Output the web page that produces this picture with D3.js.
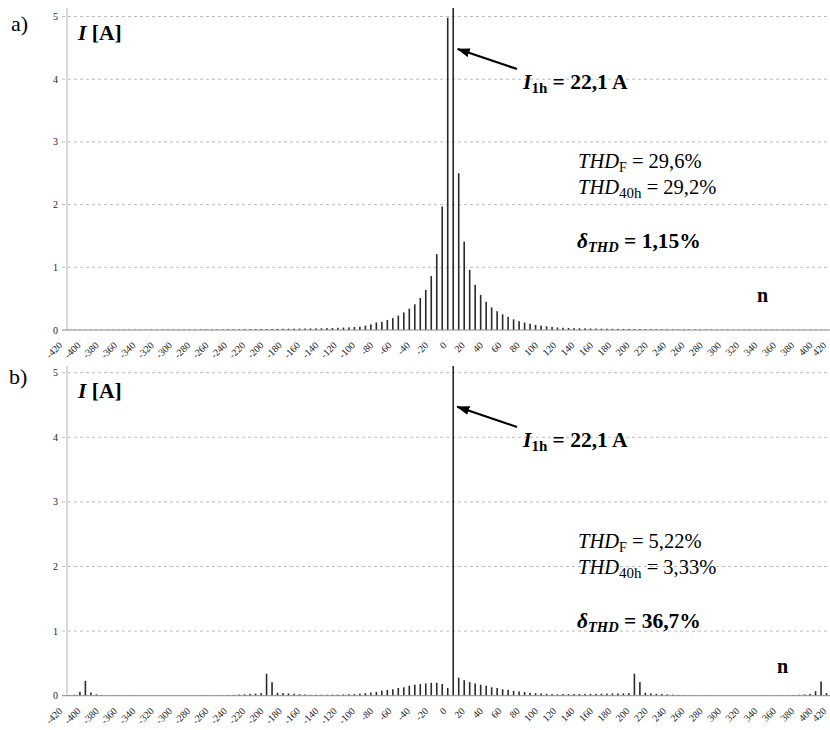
<!DOCTYPE html>
<html>
<head>
<meta charset="utf-8">
<script src="https://cdn.jsdelivr.net/npm/d3@7"></script>
<style>
  body { margin: 0; background: #fff; }
  svg text { white-space: pre; }
</style>
</head>
<body>
<svg id="chart" width="830" height="730" font-family="'Liberation Serif', 'Times New Roman', serif"></svg>
<script>
// Harmonic orders of the spectrum lines (6k+1); negative orders = negative sequence
const orders = d3.range(-419, 416, 6);
const xTickValues = d3.range(-420, 421, 20);
const yTickValues = [0, 1, 2, 3, 4, 5];

// a) current amplitudes [A], orders -419 ... -5
const currentA_neg = [
  0.004, 0.004, 0.004, 0.004, 0.005, 0.005, 0.005, 0.005, 0.005, 0.005,
  0.006, 0.006, 0.006, 0.006, 0.006, 0.007, 0.007, 0.007, 0.007, 0.008,
  0.008, 0.008, 0.009, 0.009, 0.009, 0.010, 0.010, 0.011, 0.011, 0.012,
  0.012, 0.013, 0.013, 0.014, 0.015, 0.015, 0.016, 0.017, 0.018, 0.019,
  0.020, 0.021, 0.022, 0.023, 0.025, 0.026, 0.028, 0.030, 0.032, 0.035,
  0.038, 0.042, 0.047, 0.053, 0.07, 0.09, 0.12, 0.13, 0.16, 0.19,
  0.23, 0.28, 0.34, 0.41, 0.51, 0.64, 0.86, 1.21, 1.97, 4.98
];
// a) orders 1 ... 415
const currentA_pos = [
  22.1, 2.5, 1.41, 0.96, 0.72, 0.56, 0.45, 0.36, 0.30, 0.25,
  0.21, 0.17, 0.14, 0.12, 0.10, 0.08, 0.07, 0.06, 0.05, 0.04,
  0.036, 0.033, 0.030, 0.028, 0.026, 0.024, 0.022, 0.021, 0.020, 0.019,
  0.018, 0.017, 0.016, 0.015, 0.014, 0.014, 0.013, 0.012, 0.012, 0.011,
  0.011, 0.010, 0.010, 0.010, 0.009, 0.009, 0.009, 0.008, 0.008, 0.008,
  0.008, 0.007, 0.007, 0.007, 0.007, 0.006, 0.006, 0.006, 0.006, 0.006,
  0.005, 0.005, 0.005, 0.005, 0.005, 0.005, 0.005, 0.004, 0.004, 0.004
];
// b) orders -419 ... -5
const currentB_neg = [
  0.010, 0.015, 0.06, 0.23, 0.05, 0.02, 0.012, 0.010, 0.008, 0.008,
  0.007, 0.007, 0.006, 0.006, 0.006, 0.006, 0.006, 0.006, 0.006, 0.006,
  0.006, 0.006, 0.006, 0.007, 0.007, 0.008, 0.008, 0.009, 0.010, 0.012,
  0.014, 0.018, 0.022, 0.027, 0.032, 0.04, 0.34, 0.21, 0.045, 0.04,
  0.035, 0.03, 0.022, 0.018, 0.015, 0.015, 0.015, 0.015, 0.016, 0.017,
  0.02, 0.022, 0.025, 0.03, 0.04, 0.05, 0.06, 0.08, 0.09, 0.10,
  0.12, 0.13, 0.155, 0.17, 0.18, 0.19, 0.20, 0.20, 0.18, 0.12
];
// b) orders 1 ... 415
const currentB_pos = [
  22.1, 0.28, 0.24, 0.21, 0.19, 0.17, 0.155, 0.13, 0.12, 0.10,
  0.09, 0.075, 0.065, 0.055, 0.045, 0.04, 0.035, 0.03, 0.025, 0.02,
  0.025, 0.025, 0.025, 0.026, 0.027, 0.028, 0.03, 0.031, 0.032, 0.034,
  0.035, 0.036, 0.04, 0.34, 0.21, 0.045, 0.035, 0.03, 0.025, 0.02,
  0.016, 0.013, 0.011, 0.010, 0.009, 0.008, 0.007, 0.007, 0.006, 0.006,
  0.006, 0.006, 0.006, 0.006, 0.006, 0.006, 0.007, 0.007, 0.008, 0.008,
  0.009, 0.010, 0.012, 0.015, 0.02, 0.028, 0.07, 0.22, 0.04, 0.015
];

const panels = [
  {
    id: "a", label: "a)", values: currentA_neg.concat(currentA_pos),
    top: 8, y0: 330, y5: 16.5,
    thdF: "29,6%", thd40: "29,2%", delta: "1,15%",
    pos: { tag: [11, 31], unit: [78, 40], arrow: [517, 69, 457.7, 49], i1h: [523, 89],
           l1: [578, 168], l2: [578, 194], l3: [577, 248], n: [757, 302] }
  },
  {
    id: "b", label: "b)", values: currentB_neg.concat(currentB_pos),
    top: 366, y0: 695.7, y5: 372.7,
    thdF: "5,22%", thd40: "3,33%", delta: "36,7%",
    pos: { tag: [9, 384], unit: [78, 398], arrow: [517, 427, 457.3, 406.7], i1h: [523, 447],
           l1: [578, 548], l2: [578, 574], l3: [577, 628], n: [777, 673] }
  }
];

const svg = d3.select("#chart");
const axisX = 67;
const rightEdge = 830;
const x = d3.scaleLinear().domain([-420, 420]).range([68, 68 + 840 * 0.915]);

svg.append("defs").append("marker")
  .attr("id", "arrowHead")
  .attr("markerUnits", "userSpaceOnUse")
  .attr("viewBox", "0 -5 13 10")
  .attr("refX", 12).attr("refY", 0)
  .attr("markerWidth", 13).attr("markerHeight", 10)
  .attr("orient", "auto")
  .append("path").attr("d", "M0,-4.5L13,0L0,4.5Z").attr("fill", "#000");

panels.forEach(p => {
  const y = d3.scaleLinear().domain([0, 5]).range([p.y0, p.y5]);
  const g = svg.append("g");

  g.append("clipPath").attr("id", "clip-" + p.id)
    .append("rect").attr("x", axisX).attr("y", p.top)
    .attr("width", rightEdge - axisX).attr("height", p.y0 - p.top);

  // dashed grid lines with short outward ticks
  g.append("g").selectAll("line").data(yTickValues.filter(d => d > 0)).join("line")
    .attr("x1", axisX - 5).attr("x2", rightEdge)
    .attr("y1", d => y(d)).attr("y2", d => y(d))
    .attr("stroke", "#bcbcbc").attr("stroke-width", 1)
    .attr("stroke-dasharray", "3,3");

  // y tick labels
  g.append("g").selectAll("text").data(yTickValues).join("text")
    .attr("x", axisX - 9).attr("y", d => y(d)).attr("dy", "0.35em")
    .attr("text-anchor", "end").attr("font-size", 10).attr("fill", "#222")
    .text(d => d);

  // spectrum lines
  g.append("g").attr("clip-path", "url(#clip-" + p.id + ")")
    .selectAll("rect").data(orders.map((n, i) => ({ n, v: p.values[i] }))).join("rect")
    .attr("x", d => x(d.n) - 0.8).attr("width", 1.6)
    .attr("y", d => y(d.v)).attr("height", d => p.y0 - y(d.v))
    .attr("fill", "#2a2a2a");

  // axes lines
  g.append("line").attr("x1", axisX).attr("x2", axisX)
    .attr("y1", p.top).attr("y2", p.y0)
    .attr("stroke", "#b0b0b0").attr("stroke-width", 1);
  g.append("line").attr("x1", axisX - 5).attr("x2", rightEdge)
    .attr("y1", p.y0).attr("y2", p.y0)
    .attr("stroke", "#8a8a8a").attr("stroke-width", 1);

  // x tick labels, rotated (the last one is nudged in to stay on the page)
  g.append("g").selectAll("text").data(xTickValues).join("text")
    .attr("transform", d => `translate(${Math.min(x(d) - 5, 827)},${p.y0 + 16}) rotate(-45)`)
    .attr("text-anchor", "end").attr("font-size", 10).attr("fill", "#222")
    .text(d => d);

  const P = p.pos;
  g.append("text").attr("x", P.tag[0]).attr("y", P.tag[1])
    .attr("font-size", 22).text(p.label);

  const unit = g.append("text").attr("x", P.unit[0]).attr("y", P.unit[1])
    .attr("font-size", 21.5).attr("font-weight", "bold");
  unit.append("tspan").attr("font-style", "italic").text("I");
  unit.append("tspan").text(" [A]");

  g.append("line")
    .attr("x1", P.arrow[0]).attr("y1", P.arrow[1])
    .attr("x2", P.arrow[2]).attr("y2", P.arrow[3])
    .attr("stroke", "#000").attr("stroke-width", 2.2)
    .attr("marker-end", "url(#arrowHead)");

  const i1h = g.append("text").attr("x", P.i1h[0]).attr("y", P.i1h[1])
    .attr("font-size", 21.5).attr("font-weight", "bold");
  i1h.append("tspan").attr("font-style", "italic").text("I");
  i1h.append("tspan").attr("font-size", 15).attr("dy", 4).text("1h");
  i1h.append("tspan").attr("dy", -4).text(" = 22,1 A");

  const l1 = g.append("text").attr("x", P.l1[0]).attr("y", P.l1[1]).attr("font-size", 20.5);
  l1.append("tspan").attr("font-style", "italic").text("THD");
  l1.append("tspan").attr("font-size", 14).attr("dy", 4).text("F");
  l1.append("tspan").attr("dy", -4).text(" = " + p.thdF);

  const l2 = g.append("text").attr("x", P.l2[0]).attr("y", P.l2[1]).attr("font-size", 20.5);
  l2.append("tspan").attr("font-style", "italic").text("THD");
  l2.append("tspan").attr("font-size", 15).attr("dy", 4).text("40h");
  l2.append("tspan").attr("dy", -4).text(" = " + p.thd40);

  const l3 = g.append("text").attr("x", P.l3[0]).attr("y", P.l3[1])
    .attr("font-size", 21.5).attr("font-weight", "bold");
  l3.append("tspan").attr("font-style", "italic").text("δ");
  l3.append("tspan").attr("font-style", "italic").attr("font-size", 14.5).attr("dy", 4).text("THD");
  l3.append("tspan").attr("dy", -4).text(" = " + p.delta);

  g.append("text").attr("x", P.n[0]).attr("y", P.n[1])
    .attr("font-size", 20).attr("font-weight", "bold").text("n");
});
</script>
</body>
</html>
